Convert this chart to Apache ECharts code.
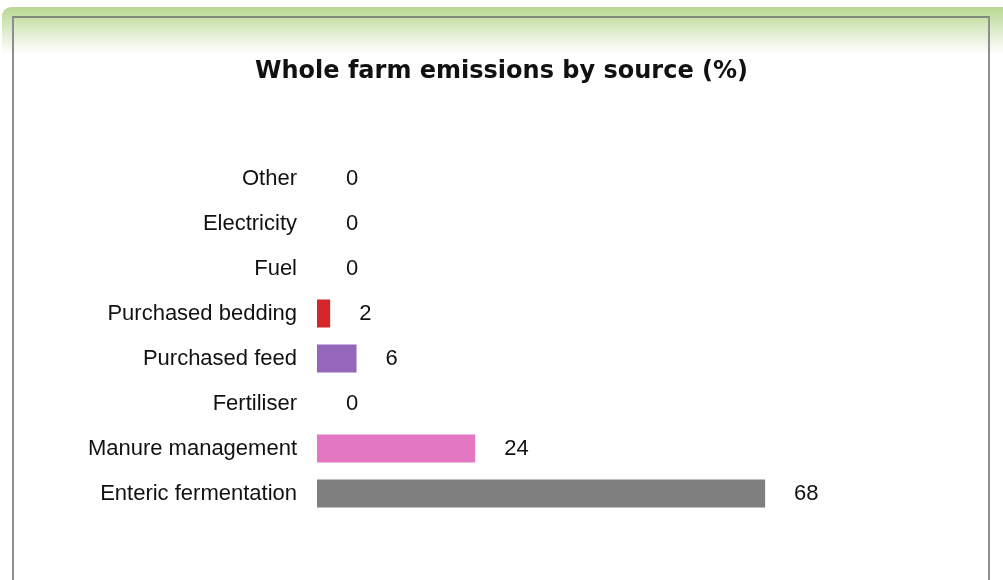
<!DOCTYPE html>
<html>
<head>
<meta charset="utf-8">
<script src="https://cdn.jsdelivr.net/npm/echarts@6/dist/echarts.min.js"></script>
<style>
    html, body { margin: 0; padding: 0; background: #fff; overflow: hidden; }
    #band {
        position: absolute; left: 2px; top: 7px; width: 1010px; height: 600px;
        border-radius: 9px 0 0 0;
        background: linear-gradient(#bad893 0px, #cae2ad 12px, #e3efd5 28px, #ffffff 47px, #ffffff 100%);
    }
    #panel {
        position: absolute; left: 12px; top: 16px; width: 974px; height: 600px;
        border: 2px solid #8e8e8e; border-top-color: #7f8a7a;
    }
    #chart { position: absolute; left: 0; top: 0; width: 1003px; height: 580px; }
</style>
</head>
<body>
<div id="band"></div>
<div id="panel"></div>
<div id="chart"></div>
<script>
// 排放來源 (由下往上)
const categories = [
    "Enteric fermentation",
    "Manure management",
    "Fertiliser",
    "Purchased feed",
    "Purchased bedding",
    "Fuel",
    "Electricity",
    "Other"
];
const values = [68, 24, 0, 6, 2, 0, 0, 0];
const barColors = ["#7f7f7f", "#e377c2", "#2ca02c", "#9467bd", "#d62728", "#8c564b", "#bcbd22", "#17becf"];

const chart = echarts.init(document.getElementById("chart"), null, { renderer: "canvas" });

chart.setOption({
    backgroundColor: "transparent",
    animation: false,
    title: {
        text: "Whole farm emissions by source (%)",
        left: "center",
        top: 55,
        textStyle: { fontFamily: "DejaVu Sans", fontWeight: "bold", fontSize: 24, color: "#111" }
    },
    grid: { left: 317, top: 156, width: 659, height: 360, containLabel: false },
    xAxis: { type: "value", min: 0, max: 100, show: false },
    yAxis: {
        type: "category",
        data: categories,
        axisLine: { show: false },
        axisTick: { show: false },
        axisLabel: { margin: 20, fontFamily: "Liberation Sans", fontSize: 22, color: "#111" }
    },
    series: [{
        type: "bar",
        data: values.map((v, i) => ({ value: v, itemStyle: { color: barColors[i] } })),
        barWidth: 28,
        label: {
            show: true,
            position: "right",
            distance: 29,
            fontFamily: "Liberation Sans",
            fontSize: 22,
            color: "#111"
        }
    }]
});
</script>
</body>
</html>
